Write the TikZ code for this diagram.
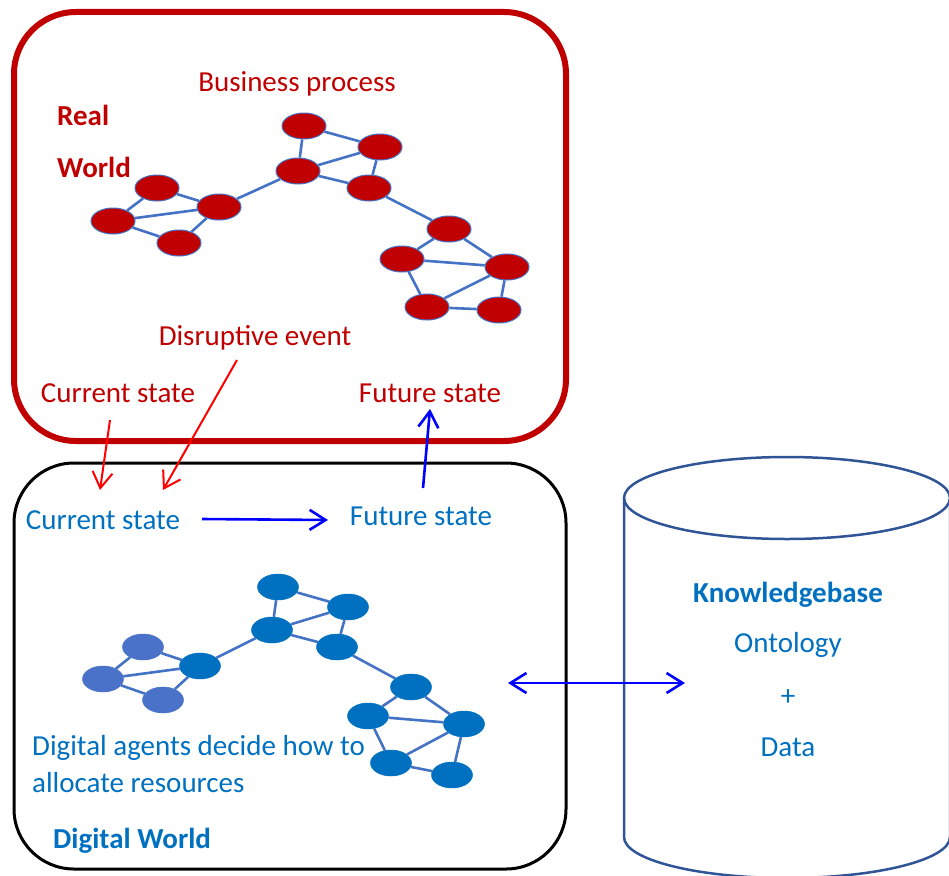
\documentclass[tikz,border=0pt]{standalone}
\usepackage{fontspec}
\setmainfont{Carlito}
\usetikzlibrary{arrows.meta,shapes.geometric}

\definecolor{realred}{HTML}{C00000}
\definecolor{digblue}{HTML}{0070C0}
\definecolor{linkblue}{HTML}{4472C4}
\definecolor{lightblue}{HTML}{4A72C8}
\definecolor{cylblue}{HTML}{2F5597}

\tikzset{
  lbl/.style={inner sep=0pt,anchor=base,font=\fontsize{29}{35}\selectfont},
  bold lbl/.style={lbl,font=\fontsize{29}{35}\selectfont\bfseries},
  rnode/.style={ellipse,inner sep=0pt,minimum width=44,minimum height=26,
    fill=realred,draw=linkblue,line width=1},
  dnode/.style={ellipse,inner sep=0pt,minimum width=41,minimum height=26,
    fill=digblue,draw=digblue,line width=0.5},
  dnode light/.style={dnode,fill=lightblue,draw=lightblue},
  link/.style={draw=linkblue,line width=2.6},
  barb/.style={line width=2.6,-{Straight Barb[length=16,width=20]}},
}

\begin{document}
\begin{tikzpicture}[x=1pt,y=-1pt]
    \useasboundingbox (0,0) rectangle (949,875);
    \clip (0,0) rectangle (949,875);
    % frames
    \draw[realred,line width=6,rounded corners=62] (14,12) rectangle (566,441);
    \draw[black,line width=3,rounded corners=60] (14,463) rectangle (566,869);
    % knowledge base cylinder
    \draw[cylblue,line width=2.5] (787,498) ellipse [x radius=163,y radius=41];
    \draw[cylblue,line width=2.5] (624,498) -- (624,837)
        arc[start angle=180,end angle=0,x radius=163,y radius=41] -- (950,498);

    % business process network
    \foreach \n/\x/\y in {l1/157/188,l2/113/221,l3/219/207,l4/179/243,
        m1/304/126,m2/380/147,m3/298/171,m4/369/188,
        q1/449/229,q2/402/259,q3/507/267,q4/427/307,q5/499/310}
        \node[rnode] (r\n) at (\x,\y) {};
    \foreach \a/\b in {m1/m2,m1/m3,m3/m2,m2/m4,m3/m4,m3/l3,l1/l3,l1/l2,l2/l3,
        l2/l4,l4/l3,m4/q1,q1/q2,q1/q3,q2/q3,q2/q4,q3/q4,q3/q5,q4/q5}
        \draw[link] (r\a) -- (r\b);

    % digital agents network
    \foreach \n/\x/\y in {l1/143/647,l2/103/679,l4/163/700}
        \node[dnode light] (d\n) at (\x,\y) {};
    \foreach \n/\x/\y in {l3/200/666,
        m1/278/587,m2/348/607,m3/272/630,m4/337/647,
        q1/411/687,q2/368/716,q3/464/724,q4/391/763,q5/452/775}
        \node[dnode] (d\n) at (\x,\y) {};
    \foreach \a/\b in {m1/m2,m1/m3,m3/m2,m2/m4,m3/m4,m3/l3,l1/l3,l1/l2,l2/l3,
        l2/l4,l4/l3,m4/q1,q1/q2,q1/q3,q2/q3,q2/q4,q3/q4,q3/q5,q4/q5}
        \draw[link] (d\a) -- (d\b);

    % labels, real world
    \node[lbl,realred] (bproc) at (297,91) {Business process};
    \node[bold lbl,realred,anchor=base west] (real) at (57,125) {Real};
    \node[bold lbl,realred,anchor=base west] (world) at (57,177) {World};
    \node[lbl,realred] (disr) at (255,345) {Disruptive event};
    \node[lbl,realred] (rcur) at (118,402) {Current state};
    \node[lbl,realred] (rfut) at (430,402) {Future state};
    % labels, digital world
    \node[lbl,digblue] (dcur) at (103,529) {Current state};
    \node[lbl,digblue] (dfut) at (421,525) {Future state};
    \node[lbl,digblue,anchor=base west] (agents) at (32,755) {Digital agents decide how to};
    \node[lbl,digblue,anchor=base west] (alloc) at (32,792) {allocate resources};
    \node[bold lbl,digblue,anchor=base west] (dworld) at (53,848) {Digital World};
    % labels, knowledge base
    \node[bold lbl,digblue] (kb) at (788,602) {Knowledgebase};
    \node[lbl,digblue] (onto) at (788,652) {Ontology};
    \node[lbl,digblue] (plus) at (788,705) {+};
    \node[lbl,digblue] (data) at (788,756) {Data};

    % arrow ends
    \coordinate (cs1) at (110,420);
    \coordinate (cs2) at (100,490);
    \coordinate (ev1) at (237,360);
    \coordinate (ev2) at (163,490);
    \coordinate (cf1) at (202,519);
    \coordinate (cf2) at (328,520);
    \coordinate (fs1) at (423,488);
    \coordinate (fs2) at (430,409);
    \coordinate (kb1) at (508,683);
    \coordinate (kb2) at (685,683);
    % arrows
    \draw[barb,red,line width=2] (cs1) -- (cs2);
    \draw[barb,red,line width=2] (ev1) -- (ev2);
    \draw[barb,blue] (cf1) -- (cf2);
    \draw[barb,blue] (fs1) -- (fs2);
    \draw[barb,blue,{Straight Barb[length=16,width=20]}-{Straight Barb[length=16,width=20]}] (kb1) -- (kb2);
\end{tikzpicture}
\end{document}
